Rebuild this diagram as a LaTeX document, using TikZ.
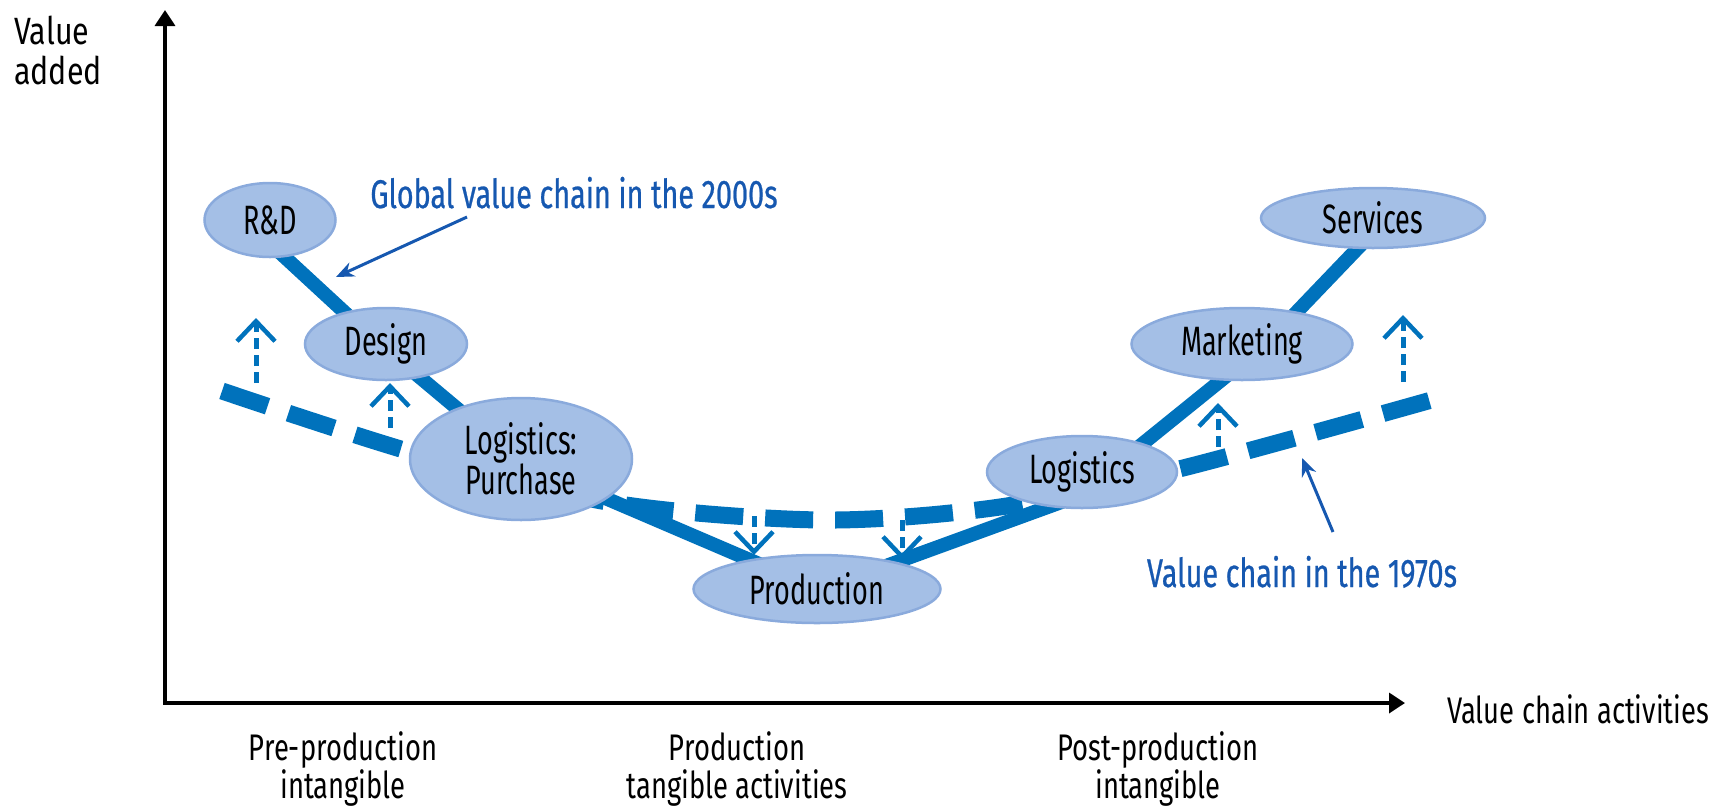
\documentclass[tikz,border=0pt]{standalone}
\usepackage{fontspec}
\setmainfont{Fira Sans}[FakeStretch=0.66]
\newfontfamily\axisfont{Fira Sans}[FakeStretch=0.74]
\newfontfamily\yfont{Fira Sans}[FakeStretch=0.8]
\newfontfamily\annotfont{Fira Sans}[FakeStretch=0.72,FakeBold=0.6]
\usetikzlibrary{arrows.meta,backgrounds,shapes.geometric}
\definecolor{chainblue}{RGB}{0,114,188}
\definecolor{nodefill}{RGB}{164,191,230}
\definecolor{nodeedge}{RGB}{138,170,220}
\definecolor{textblue}{RGB}{22,88,176}
\tikzset{
 stage/.style={ellipse, fill=nodefill, draw=nodeedge, line width=2.5pt, inner sep=0pt, align=center, font=\fontsize{41}{39}\selectfont},
 axislabel/.style={inner sep=0pt, font=\axisfont\fontsize{37}{38}\selectfont},
 annot/.style={inner sep=0pt, text=textblue, font=\annotfont\fontsize{40}{40}\selectfont},
 axisline/.style={line width=3.5pt, {Triangle[length=16pt,width=20pt]}-{Triangle[length=16pt,width=20pt]}},
 chainnew/.style={draw=chainblue, line width=14pt, line join=round},
 chainold/.style={draw=chainblue, line width=17pt, dash pattern=on 48pt off 22pt},
 shiftarrow/.style={draw=chainblue, line width=5pt, dash pattern=on 11pt off 6pt, -{Straight Barb[length=20pt,width=38pt,line width=4.5pt]}},
 annarrow/.style={draw=textblue, line width=3pt, -{Stealth[length=18pt,width=15pt]}}
}
\begin{document}
\begin{tikzpicture}[x=1pt,y=-1pt]
\useasboundingbox (0,0) rectangle (1725,807);
% axes
\coordinate (orig) at (165,703);
\coordinate (ytip) at (165,10);
\coordinate (xtip) at (1405,703);
\draw[axisline] (ytip) -- (orig) -- (xtip);
\node[inner sep=0pt, font=\yfont\fontsize{38}{40}\selectfont, anchor=north west, align=left] (va) at (14,16) {Value\\added};
\node[axislabel, anchor=base west] (vca) at (1447,723) {Value chain activities};
\node[axislabel, anchor=north, align=center] (pre) at (343,731) {Pre-production\\intangible};
\node[axislabel, anchor=north, align=center] (mid) at (737,731) {Production\\tangible activities};
\node[axislabel, anchor=north, align=center] (post) at (1158,731) {Post-production\\intangible};
% stages
\node[stage, minimum width=131pt, minimum height=74pt] (rd) at (270,220) {R\&D};
\node[stage, minimum width=162pt, minimum height=72pt] (dsg) at (386,344) {Design};
\node[stage, minimum width=222pt, minimum height=122pt] (lp) at (521,459) {Logistics:\\Purchase};
\node[stage, minimum width=247pt, minimum height=68pt] (prod) at (817,589) {Production};
\node[stage, minimum width=190pt, minimum height=72pt] (lg) at (1082,472) {Logistics};
\node[stage, minimum width=221pt, minimum height=72pt] (mk) at (1242,344) {Marketing};
\node[stage, minimum width=224pt, minimum height=60pt] (sv) at (1373,218) {Services};
% chain vertices
\coordinate (a0) at (250,225);
\coordinate (a1) at (367,333);
\coordinate (a2) at (521,462);
\coordinate (a3) at (820,590);
\coordinate (a4) at (1078,496);
\coordinate (a5) at (1266,344);
\coordinate (a6) at (1380,225);
\coordinate (b0) at (222,391);
\coordinate (b1) at (411,452);
\coordinate (b2) at (613,503);
\coordinate (b3) at (822,520);
\coordinate (b4) at (1000,507);
\coordinate (b5) at (1183,468);
\coordinate (b6) at (1435,399);
\begin{scope}[on background layer]
\draw[chainold] plot[smooth, tension=0.5] coordinates {(b0) (b1) (b2) (b3) (b4) (b5) (b6)};
\draw[chainnew] (a0) -- (a1) -- (a2) -- (a3) -- (a4) -- (a5) -- (a6);
\end{scope}
% shift arrows
\coordinate (s1a) at (256,383); \coordinate (s1b) at (256,318);
\coordinate (s2a) at (390,428); \coordinate (s2b) at (390,383);
\coordinate (s3a) at (754,516); \coordinate (s3b) at (754,555);
\coordinate (s4a) at (902,520); \coordinate (s4b) at (902,560);
\coordinate (s5a) at (1218,447); \coordinate (s5b) at (1218,403);
\coordinate (s6a) at (1403,382); \coordinate (s6b) at (1403,315);
\draw[shiftarrow] (s1a) -- (s1b);
\draw[shiftarrow] (s2a) -- (s2b);
\draw[shiftarrow] (s3a) -- (s3b);
\draw[shiftarrow] (s4a) -- (s4b);
\draw[shiftarrow] (s5a) -- (s5b);
\draw[shiftarrow] (s6a) -- (s6b);
% annotations
\node[annot, anchor=base] (t00) at (574,208) {Global value chain in the 2000s};
\node[annot, anchor=base] (t70) at (1302,587) {Value chain in the 1970s};
\coordinate (p00a) at (467,217); \coordinate (p00b) at (336,277);
\coordinate (p70a) at (1333,532); \coordinate (p70b) at (1302,458);
\draw[annarrow] (p00a) -- (p00b);
\draw[annarrow] (p70a) -- (p70b);
\end{tikzpicture}
\end{document}
